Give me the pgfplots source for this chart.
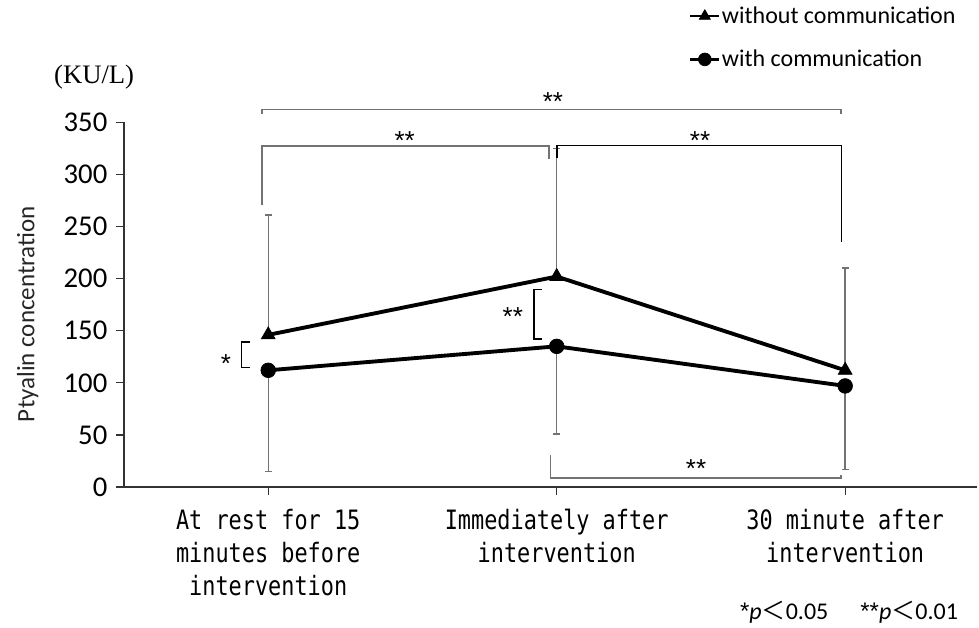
\documentclass[border=0pt]{standalone}
\usepackage{pgfplots}
\pgfplotsset{compat=1.18}
\usepackage{pgfplotstable}
\usepackage{fontspec}
\setmainfont{Carlito}
\newfontfamily\cjk{Noto Sans CJK JP}
\newfontfamily\monofont[FakeStretch=0.82]{DejaVu Sans Mono}
\newfontfamily\seriffont{Liberation Serif}
\newfontfamily\astfont{Liberation Sans}
\newcommand{\signif}[1]{{\astfont\fontsize{19.5}{20}\selectfont #1}}

\pgfplotstableread{
x y ep
0 146 115
1 202 123
2 112 98
}\without
\pgfplotstableread{
x y em
0 112 97
1 135 84
2 97 80
}\withc

\begin{document}
\begin{tikzpicture}
\begin{axis}[
  at={(93pt,105.75pt)}, anchor=south west,
  scale only axis, width=639.75pt, height=273.5pt,
  xmin=-0.5, xmax=2.457, ymin=0, ymax=350,
  clip=false,
  axis lines*=left,
  axis line style={black!80, line width=0.9pt},
  tick style={black!80, line width=0.9pt},
  tick align=outside, major tick length=6pt,
  xtick={0,1,2},
  xticklabels={{At rest for 15\\minutes before\\intervention},{Immediately after\\intervention},{30 minute after\\intervention}},
  xticklabel style={font=\monofont\fontsize{20}{24.8}\selectfont, align=center, yshift=-7pt},
  ytick={0,50,...,350},
  yticklabel style={font=\fontsize{21.5}{24}\selectfont, xshift=-3pt},
  /pgf/number format/assume math mode=true,
  ylabel={Ptyalin concentration},
  ylabel style={at={(axis description cs:-0.113,0.474)}, anchor=center, font=\fontsize{18.75}{22}\selectfont, text=black!85},
  legend style={at={(0.662,1.325)}, anchor=north west, draw=none, fill=none, inner sep=0pt,
    font=\fontsize{18}{20}\selectfont, row sep=14.5pt, nodes={inner xsep=1pt}},
  legend cell align=left,
  legend image code/.code={\draw[mark repeat=2,mark phase=2,#1,line width=2pt,mark size=4.8pt] plot coordinates {(0pt,0pt) (10.9pt,0pt) (21.75pt,0pt)};},
]
% error bars
\addplot[draw=none, forget plot, mark=none,
  error bars/.cd, y dir=plus, y explicit,
  error bar style={black!55, line width=1.1pt},
  error mark options={black!55, line width=1.1pt, mark size=2.5pt, rotate=90}]
  table[x=x, y=y, y error plus=ep] {\without};
\addplot[draw=none, forget plot, mark=none,
  error bars/.cd, y dir=minus, y explicit,
  error bar style={black!55, line width=1.1pt},
  error mark options={black!55, line width=1.1pt, mark size=2.5pt, rotate=90}]
  table[x=x, y=y, y error minus=em] {\withc};
% series
\addplot[black, line width=2.9pt, mark=triangle*, mark size=6pt, mark options={solid, line width=0.5pt}]
  table[x=x, y=y] {\without};
\addplot[black, line width=2.9pt, mark=*, mark size=5.5pt, mark options={solid, line width=0.5pt}]
  table[x=x, y=y] {\withc};
\legend{without communication, with communication}

% significance brackets
\draw[black!55, line width=1.1pt] (axis cs:-0.022,358.3) -- (axis cs:-0.022,362.1) -- (axis cs:1.986,362.1) -- (axis cs:1.986,358.3);
\node[inner sep=0pt, yshift=-4pt] at (axis cs:0.987,375.5) {\signif{**}};
\draw[black!55, line width=1.1pt] (axis cs:-0.022,271) |- (axis cs:0.973,327.5) -- (axis cs:0.973,315);
\node[inner sep=0pt, yshift=-4pt] at (axis cs:0.473,337.5) {\signif{**}};
\draw[black, line width=0.9pt] (axis cs:1.001,316) |- (axis cs:1.986,327.5) -- (axis cs:1.986,235.4);
\node[inner sep=0pt, yshift=-4pt] at (axis cs:1.497,337.5) {\signif{**}};
\draw[black, line width=0.9pt] (axis cs:-0.063,139.2) -| (axis cs:-0.092,114.8) -- (axis cs:-0.063,114.8);
\node[inner sep=0pt, yshift=-4pt] at (axis cs:-0.147,124) {\signif{*}};
\draw[black, line width=0.9pt] (axis cs:0.948,189.3) -| (axis cs:0.921,142) -- (axis cs:0.948,142);
\node[inner sep=0pt, yshift=-4pt] at (axis cs:0.848,168.5) {\signif{**}};
\draw[black!55, line width=1.1pt] (axis cs:0.979,30.3) |- (axis cs:1.986,8.6) -- (axis cs:1.986,11.8);
\node[inner sep=0pt, yshift=-4pt] at (axis cs:1.483,23) {\signif{**}};

\node[font=\seriffont\fontsize{20}{24}\selectfont] at (axis description cs:-0.035,1.124) {(KU/L)};
\node[anchor=west, inner sep=0pt, font=\fontsize{18}{20}\selectfont] at (axis description cs:0.722,-0.343)
  {{\astfont *}\textit{p}{\cjk ＜}0.05\hspace{24pt}{\astfont **}\textit{p}{\cjk ＜}0.01};
\end{axis}
\pgfresetboundingbox
\path[use as bounding box] (0,0) rectangle (734.25pt,471pt);
\end{tikzpicture}
\end{document}
